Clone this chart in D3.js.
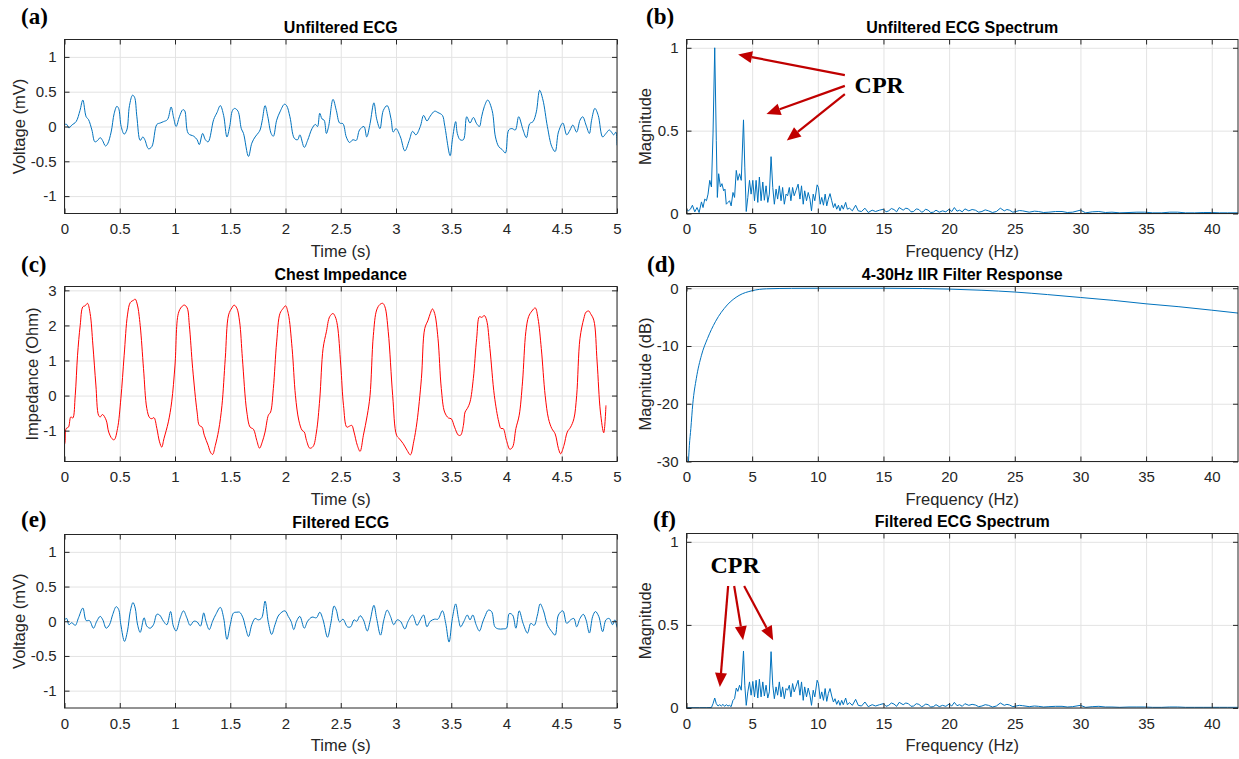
<!DOCTYPE html>
<html><head><meta charset="utf-8">
<script src="https://cdn.jsdelivr.net/npm/d3@7"></script>
<style>
body{margin:0;background:#fff;}
</style></head><body>
<svg id="c" width="1239" height="759"></svg>
<script>
// ---------------- DATA ----------------
const timeTicks = [0,0.5,1,1.5,2,2.5,3,3.5,4,4.5,5];
const voltTicks = [-1,-0.5,0,0.5,1];
const freqTicks = [0,5,10,15,20,25,30,35,40];
const magTicks = [0,0.5,1];
const impTicks = [-1,0,1,2,3];
const dbTicks = [-30,-20,-10,0];

const unfilteredECG = [[0,0.03],[0.02,0.03],[0.04,-0.02],[0.066,0.02],[0.105,0.07],[0.14,0.23],[0.166,0.38],[0.196,0.14],[0.217,0.1],[0.248,-0.05],[0.275,-0.22],[0.3,-0.2],[0.323,-0.16],[0.344,-0.2],[0.371,-0.28],[0.39,-0.25],[0.422,-0.08],[0.45,0.19],[0.474,0.29],[0.49,0.26],[0.513,0],[0.54,-0.11],[0.564,-0.05],[0.588,0.3],[0.616,0.45],[0.634,0.42],[0.655,0.14],[0.685,-0.2],[0.709,-0.15],[0.727,-0.19],[0.76,-0.32],[0.79,-0.29],[0.836,0.03],[0.866,0.05],[0.896,0.07],[0.932,0.1],[0.965,0.28],[0.986,0.14],[1.01,0],[1.04,0.14],[1.07,0.24],[1.087,0.23],[1.12,-0.1],[1.17,-0.14],[1.2,-0.19],[1.22,-0.26],[1.25,-0.1],[1.275,-0.19],[1.3,-0.22],[1.35,0.1],[1.38,0.2],[1.41,0.3],[1.44,0.16],[1.47,-0.15],[1.495,0],[1.52,0.23],[1.54,0.26],[1.57,0.22],[1.6,-0.03],[1.62,-0.1],[1.665,-0.43],[1.695,-0.24],[1.725,-0.15],[1.755,-0.09],[1.77,-0.05],[1.79,0.09],[1.815,0.3],[1.84,0.14],[1.87,-0.1],[1.89,-0.14],[1.92,0.09],[1.95,0.21],[1.99,0.32],[2.01,0.3],[2.04,0.14],[2.08,-0.17],[2.11,-0.19],[2.13,-0.12],[2.17,-0.3],[2.2,-0.2],[2.24,-0.03],[2.27,0.03],[2.29,0],[2.31,0.19],[2.33,0.11],[2.35,0.09],[2.37,-0.1],[2.39,0],[2.43,0.39],[2.46,0.23],[2.49,0.05],[2.52,0.04],[2.55,-0.15],[2.58,-0.23],[2.61,-0.19],[2.64,-0.2],[2.67,-0.05],[2.71,0],[2.735,-0.15],[2.765,0.04],[2.8,0.34],[2.825,0.11],[2.855,-0.03],[2.885,0.23],[2.92,0.3],[2.955,0.11],[2.975,-0.08],[3.0,-0.03],[3.04,-0.15],[3.08,-0.35],[3.12,-0.2],[3.15,-0.07],[3.18,-0.12],[3.22,0],[3.25,0.16],[3.28,0.08],[3.31,0.15],[3.35,0.22],[3.38,0.2],[3.42,0.16],[3.44,0.02],[3.49,-0.42],[3.51,-0.19],[3.54,0.07],[3.555,-0.1],[3.58,-0.19],[3.61,-0.19],[3.64,0.14],[3.67,0.05],[3.7,0.13],[3.73,0.04],[3.755,0],[3.775,0.14],[3.8,0.29],[3.83,0.38],[3.87,0.23],[3.9,-0.15],[3.93,-0.29],[3.96,-0.33],[3.99,-0.38],[4.02,-0.05],[4.05,-0.03],[4.08,-0.05],[4.11,0.14],[4.15,-0.05],[4.18,-0.16],[4.21,0.04],[4.24,0.07],[4.27,0.21],[4.3,0.52],[4.33,0.38],[4.37,0],[4.41,-0.29],[4.44,-0.36],[4.47,-0.08],[4.51,0.05],[4.545,-0.12],[4.575,-0.05],[4.6,0.02],[4.635,-0.08],[4.665,0.09],[4.69,0.14],[4.72,0.02],[4.75,-0.1],[4.77,0.09],[4.8,0.26],[4.83,0.16],[4.87,-0.15],[4.9,-0.1],[4.93,-0.05],[4.95,-0.08],[4.97,-0.12],[4.99,-0.08],[5.0,-0.27]];

const chestImpedance = [[0,-1.4],[0.005,-1.32],[0.015,-0.94],[0.036,-0.9],[0.057,-0.61],[0.075,-0.64],[0.097,0],[0.118,1.15],[0.142,2.0],[0.166,2.53],[0.187,2.56],[0.208,2.63],[0.232,2.34],[0.257,1.44],[0.284,0.3],[0.308,-0.56],[0.323,-0.61],[0.344,-0.54],[0.377,-0.7],[0.4,-1.04],[0.43,-1.23],[0.45,-1.26],[0.48,-0.94],[0.51,-0.09],[0.54,1.15],[0.57,2.3],[0.595,2.65],[0.625,2.72],[0.64,2.75],[0.66,2.58],[0.685,2.0],[0.715,0.77],[0.745,-0.37],[0.77,-0.63],[0.79,-0.66],[0.81,-0.63],[0.836,-0.94],[0.86,-1.32],[0.88,-1.47],[0.9,-1.23],[0.94,-0.75],[0.97,-0.18],[1.0,0.87],[1.03,2.34],[1.06,2.53],[1.085,2.58],[1.11,2.5],[1.13,2.0],[1.16,0.77],[1.2,-0.47],[1.22,-0.85],[1.245,-0.9],[1.265,-1.13],[1.3,-1.42],[1.32,-1.61],[1.34,-1.68],[1.365,-1.42],[1.395,-0.99],[1.425,-0.28],[1.455,1.06],[1.485,2.3],[1.515,2.5],[1.535,2.58],[1.56,2.49],[1.585,2.1],[1.61,1.06],[1.65,-0.47],[1.68,-0.9],[1.71,-0.96],[1.74,-1.28],[1.765,-1.5],[1.79,-1.32],[1.815,-1.04],[1.845,-0.56],[1.865,-0.47],[1.89,0.2],[1.92,1.53],[1.95,2.34],[1.98,2.49],[2.0,2.56],[2.025,2.34],[2.06,1.34],[2.09,0],[2.12,-0.7],[2.15,-0.99],[2.17,-1.04],[2.19,-1.28],[2.22,-1.5],[2.25,-1.45],[2.28,-1.04],[2.31,-0.1],[2.34,1.34],[2.37,1.82],[2.4,2.25],[2.43,2.34],[2.45,2.25],[2.47,2.0],[2.5,0.87],[2.525,-0.28],[2.555,-0.9],[2.58,-0.87],[2.6,-0.85],[2.62,-1.04],[2.65,-1.42],[2.675,-1.59],[2.705,-1.13],[2.74,-0.56],[2.765,0],[2.795,1.72],[2.825,2.44],[2.855,2.6],[2.88,2.63],[2.9,2.53],[2.93,1.82],[2.97,0],[3.005,-1.13],[3.03,-1.23],[3.065,-1.37],[3.1,-1.56],[3.13,-1.69],[3.16,-1.32],[3.19,-0.75],[3.23,0.49],[3.26,1.91],[3.29,2.15],[3.31,2.34],[3.33,2.47],[3.35,2.34],[3.38,1.63],[3.41,0.2],[3.44,-0.47],[3.475,-0.64],[3.5,-0.66],[3.53,-0.9],[3.565,-1.13],[3.585,-1.13],[3.61,-0.85],[3.625,-0.47],[3.645,-0.37],[3.67,-0.18],[3.7,0.49],[3.73,1.63],[3.755,2.25],[3.775,2.23],[3.8,2.28],[3.82,2.15],[3.85,1.34],[3.89,0],[3.93,-0.75],[3.95,-0.94],[3.97,-0.94],[4.0,-1.28],[4.03,-1.53],[4.055,-1.47],[4.085,-0.94],[4.115,-0.56],[4.145,0.39],[4.175,1.82],[4.2,2.25],[4.23,2.41],[4.26,2.5],[4.285,2.2],[4.315,1.34],[4.35,0],[4.38,-0.66],[4.41,-0.94],[4.44,-1.09],[4.47,-1.51],[4.49,-1.66],[4.52,-1.42],[4.55,-1.04],[4.58,-0.9],[4.61,-0.66],[4.635,0],[4.665,1.63],[4.7,2.2],[4.72,2.38],[4.745,2.41],[4.76,2.34],[4.79,2.15],[4.82,0.96],[4.85,-0.47],[4.88,-1.06],[4.9,-0.28]];

const filteredECG = [[0,0.02],[0.02,0.04],[0.04,-0.05],[0.066,-0.02],[0.097,-0.06],[0.127,0.05],[0.166,0.19],[0.196,0.01],[0.226,0.01],[0.262,-0.1],[0.292,0],[0.323,0.07],[0.347,0.02],[0.377,-0.1],[0.407,-0.05],[0.437,0.1],[0.468,0.21],[0.49,0.17],[0.51,-0.05],[0.543,-0.29],[0.57,-0.14],[0.595,0.14],[0.62,0.27],[0.64,0.19],[0.66,-0.04],[0.685,-0.16],[0.72,0.05],[0.745,-0.07],[0.775,-0.1],[0.805,-0.05],[0.836,0.1],[0.86,0.09],[0.896,0],[0.926,-0.05],[0.96,0.14],[0.985,-0.07],[1.01,-0.14],[1.047,0.05],[1.077,0.15],[1.107,0.05],[1.137,-0.06],[1.17,0],[1.2,-0.01],[1.23,-0.07],[1.26,0.12],[1.28,0],[1.31,-0.12],[1.34,0],[1.37,0.1],[1.41,0.2],[1.44,0.05],[1.47,-0.26],[1.5,-0.05],[1.53,0.12],[1.56,0.13],[1.585,0.13],[1.615,0.05],[1.64,-0.1],[1.665,-0.22],[1.695,-0.05],[1.725,0.04],[1.755,0.02],[1.785,0.05],[1.815,0.29],[1.845,-0.02],[1.875,-0.19],[1.905,-0.05],[1.94,0.09],[1.995,0.15],[2.025,0.07],[2.05,0],[2.075,-0.12],[2.1,0],[2.13,0.07],[2.17,-0.1],[2.2,0],[2.24,0.06],[2.28,0.05],[2.31,0.13],[2.34,0.02],[2.38,-0.23],[2.41,-0.03],[2.44,0.22],[2.46,0.16],[2.49,-0.01],[2.52,0.03],[2.56,-0.08],[2.59,-0.08],[2.62,0.02],[2.645,0],[2.675,0.08],[2.705,0.02],[2.74,-0.14],[2.765,0],[2.8,0.23],[2.825,0.04],[2.86,-0.2],[2.89,0.02],[2.92,0.16],[2.95,0.07],[2.98,-0.05],[3.01,0.02],[3.04,0],[3.08,-0.11],[3.11,0],[3.15,0.09],[3.19,-0.06],[3.22,0.02],[3.25,0.09],[3.28,-0.08],[3.31,0],[3.35,0.03],[3.38,0.03],[3.42,0.15],[3.45,-0.03],[3.48,-0.3],[3.51,0.04],[3.54,0.25],[3.565,0.04],[3.585,-0.08],[3.615,0],[3.645,0.09],[3.67,0.02],[3.695,0.09],[3.725,-0.05],[3.755,-0.14],[3.785,-0.01],[3.805,0.07],[3.835,0.16],[3.865,0.14],[3.895,-0.08],[3.925,-0.11],[3.97,-0.11],[4.0,-0.1],[4.025,0.11],[4.055,0.09],[4.085,-0.1],[4.115,0.15],[4.15,-0.03],[4.19,-0.17],[4.22,-0.03],[4.25,-0.06],[4.28,0.09],[4.305,0.25],[4.335,0.15],[4.37,-0.05],[4.41,-0.15],[4.44,-0.2],[4.47,0.09],[4.51,0.15],[4.545,-0.03],[4.58,0.02],[4.61,0.04],[4.635,-0.08],[4.665,0.04],[4.695,0.1],[4.72,0.02],[4.75,-0.17],[4.78,0.07],[4.805,0.14],[4.835,0.07],[4.87,-0.15],[4.9,0.02],[4.93,0.04],[4.96,-0.05],[4.98,0.02],[5.0,-0.09]];

const unfilteredSpectrum = [[0,0.026],[0.13,0.016],[0.3,0.026],[0.45,0.05],[0.63,0.01],[0.8,0.036],[0.96,0.006],[1.14,0.07],[1.26,0.036],[1.39,0.087],[1.52,0.077],[1.64,0.117],[1.77,0.2],[1.9,0.16],[2.02,0.48],[2.15,1.0],[2.27,0.44],[2.35,0.097],[2.45,0.24],[2.58,0.16],[2.7,0.18],[2.83,0.137],[2.93,0.147],[3.03,0.056],[3.16,0.067],[3.28,0.077],[3.4,0.046],[3.54,0.127],[3.66,0.097],[3.79,0.26],[3.91,0.2],[4.04,0.24],[4.17,0.2],[4.34,0.565],[4.44,0.28],[4.55,0.012],[4.67,0.097],[4.8,0.2],[4.92,0.117],[5.05,0.2],[5.18,0.077],[5.3,0.2],[5.43,0.067],[5.55,0.22],[5.68,0.077],[5.81,0.19],[5.93,0.08],[6.06,0.167],[6.19,0.067],[6.31,0.117],[6.44,0.343],[6.57,0.157],[6.69,0.056],[6.82,0.147],[6.94,0.087],[7.07,0.167],[7.2,0.077],[7.32,0.157],[7.45,0.056],[7.58,0.117],[7.7,0.107],[7.83,0.157],[7.95,0.077],[8.08,0.157],[8.2,0.107],[8.33,0.137],[8.5,0.177],[8.64,0.087],[8.76,0.167],[8.89,0.056],[9.0,0.137],[9.14,0.077],[9.27,0.127],[9.4,0.087],[9.52,0.016],[9.65,0.117],[9.77,0.077],[9.95,0.173],[10.05,0.157],[10.18,0.056],[10.3,0.097],[10.43,0.05],[10.56,0.117],[10.68,0.046],[10.8,0.087],[10.93,0.12],[11.06,0.077],[11.19,0.036],[11.31,0.06],[11.44,0.026],[11.57,0.05],[11.69,0.016],[11.82,0.05],[11.94,0.026],[12.12,0.067],[12.25,0.026],[12.42,0.032],[12.63,0.016],[12.88,0.05],[13.08,0.016],[13.33,0.012],[13.59,0.032],[13.84,0.006],[14.14,0.02],[14.4,0.012],[14.7,0.02],[15.0,0.026],[15.2,0.01],[15.4,0.016],[15.6,0.03],[15.8,0.024],[16.0,0.01],[16.2,0.036],[16.5,0.02],[16.7,0.032],[16.9,0.028],[17.1,0.01],[17.3,0.012],[17.5,0.028],[17.7,0.024],[17.9,0.008],[18.05,0.012],[18.2,0.026],[18.4,0.02],[18.6,0.006],[18.8,0.008],[19.0,0.02],[19.25,0.008],[19.5,0.016],[19.75,0.01],[20,0.026],[20.2,0.012],[20.4,0.036],[20.6,0.014],[20.8,0.02],[21.0,0.01],[21.2,0.028],[21.5,0.016],[21.75,0.024],[22.0,0.02],[22.25,0.008],[22.5,0.012],[22.75,0.022],[23.0,0.016],[23.3,0.006],[23.6,0.012],[23.9,0.032],[24.2,0.016],[24.4,0.024],[24.6,0.02],[24.85,0.008],[25.1,0.012],[25.35,0.018],[25.6,0.016],[26.1,0.008],[26.5,0.014],[26.8,0.012],[27.2,0.006],[27.6,0.008],[28.1,0.012],[28.6,0.012],[29.0,0.006],[29.4,0.008],[30,0.02],[30.4,0.004],[30.9,0.01],[31.4,0.012],[31.9,0.006],[32.4,0.008],[33.0,0.004],[33.7,0.006],[34.3,0.008],[34.9,0.008],[35.5,0.004],[36.2,0.004],[36.8,0.008],[37.4,0.008],[38.0,0.004],[38.7,0.004],[39.4,0.006],[40,0.006],[40.6,0.004],[41.2,0.004],[42,0.004]];

const filteredSpectrum = [[0,0.002],[0.5,0.002],[1.0,0.002],[1.5,0.002],[1.9,0.003],[2.02,0.026],[2.15,0.06],[2.27,0.026],[2.4,0.012],[2.53,0.02],[2.65,0.012],[2.78,0.022],[2.9,0.01],[3.03,0.02],[3.16,0.012],[3.28,0.016],[3.4,0.008],[3.54,0.046],[3.66,0.056],[3.79,0.12],[3.91,0.1],[4.04,0.137],[4.17,0.107],[4.34,0.343],[4.44,0.137],[4.55,0.016],[4.67,0.097],[4.8,0.157],[4.92,0.077],[5.05,0.16],[5.18,0.067],[5.3,0.167],[5.43,0.06],[5.55,0.173],[5.68,0.067],[5.81,0.157],[5.93,0.072],[6.06,0.137],[6.19,0.06],[6.31,0.097],[6.44,0.339],[6.57,0.137],[6.69,0.056],[6.82,0.127],[6.94,0.077],[7.07,0.157],[7.2,0.067],[7.32,0.127],[7.45,0.056],[7.58,0.117],[7.7,0.107],[7.83,0.137],[7.95,0.067],[8.08,0.147],[8.2,0.097],[8.33,0.127],[8.5,0.167],[8.64,0.077],[8.76,0.157],[8.89,0.046],[9.0,0.127],[9.14,0.067],[9.27,0.12],[9.4,0.077],[9.52,0.016],[9.65,0.107],[9.77,0.067],[9.95,0.167],[10.05,0.147],[10.18,0.056],[10.3,0.097],[10.43,0.046],[10.56,0.117],[10.68,0.04],[10.8,0.087],[10.93,0.117],[11.06,0.072],[11.19,0.036],[11.31,0.056],[11.44,0.022],[11.57,0.046],[11.69,0.016],[11.82,0.046],[11.94,0.02],[12.12,0.06],[12.25,0.02],[12.42,0.032],[12.63,0.016],[12.88,0.052],[13.08,0.016],[13.33,0.012],[13.59,0.036],[13.84,0.008],[14.14,0.02],[14.4,0.012],[14.7,0.02],[15.0,0.026],[15.2,0.01],[15.4,0.016],[15.6,0.03],[15.8,0.024],[16.0,0.01],[16.2,0.034],[16.5,0.02],[16.7,0.03],[16.9,0.026],[17.1,0.01],[17.3,0.012],[17.5,0.026],[17.7,0.022],[17.9,0.008],[18.05,0.012],[18.2,0.024],[18.4,0.02],[18.6,0.006],[18.8,0.008],[19.0,0.02],[19.25,0.008],[19.5,0.016],[19.75,0.01],[20,0.024],[20.2,0.012],[20.4,0.034],[20.6,0.014],[20.8,0.02],[21.0,0.01],[21.2,0.026],[21.5,0.016],[21.75,0.022],[22.0,0.018],[22.25,0.008],[22.5,0.012],[22.75,0.02],[23.0,0.016],[23.3,0.006],[23.6,0.012],[23.9,0.03],[24.2,0.016],[24.4,0.022],[24.6,0.018],[24.85,0.008],[25.1,0.012],[25.35,0.016],[25.6,0.014],[26.1,0.008],[26.5,0.012],[26.8,0.01],[27.2,0.006],[27.6,0.008],[28.1,0.01],[28.6,0.01],[29.0,0.006],[29.4,0.008],[30,0.016],[30.4,0.004],[30.9,0.008],[31.4,0.01],[31.9,0.006],[32.4,0.006],[33.0,0.004],[33.7,0.006],[34.3,0.006],[34.9,0.006],[35.5,0.004],[36.2,0.004],[36.8,0.006],[37.4,0.006],[38.0,0.004],[38.7,0.004],[39.4,0.004],[40,0.004],[40.6,0.004],[41.2,0.004],[42,0.004]];

const filterResponse = [[0.11,-32],[0.15,-30],[0.22,-27.2],[0.33,-24.3],[0.48,-20],[0.75,-15.6],[1.14,-11.6],[1.6,-8.7],[2.2,-5.8],[3.1,-2.9],[4.0,-1.25],[5,-0.43],[6.1,-0.1],[8,-0.02],[10,0],[15,0],[18,-0.05],[20,-0.15],[22.5,-0.35],[25,-0.66],[27.5,-1.1],[30,-1.6],[32.5,-2.1],[35,-2.7],[37.5,-3.2],[40,-3.8],[42,-4.3]];

// CPR annotations (data coordinates of their panel): [fromX, fromY, toX, toY]
const cprArrowsB = [[12.06,0.835,3.93,0.96],[12.06,0.77,6.09,0.6],[12.06,0.72,7.64,0.44]];
const cprLabelB = [12.8,0.726];
const cprArrowsF = [[3.17,0.734,2.54,0.126],[3.63,0.734,4.31,0.408],[4.39,0.734,6.6,0.408]];
const cprLabelF = [1.83,0.811];

// ---------------- DRAW ----------------
const svg = d3.select('#c');
const SANS = '"Liberation Sans", Arial, Helvetica, sans-serif';
const SERIF = '"Liberation Serif", "Times New Roman", serif';
const AX = '#262626', GRID = '#e3e3e3';
const BLUE = '#0072BD';

function panel(cfg){
  const g = svg.append('g');
  const x = d3.scaleLinear().domain(cfg.xDomain).range([cfg.left, cfg.right]);
  const y = d3.scaleLinear().domain(cfg.yDomain).range([cfg.bottom, cfg.top]);
  const w = cfg.right - cfg.left, h = cfg.bottom - cfg.top;
  // grid
  g.append('g').attr('transform', `translate(0,${cfg.bottom})`)
    .call(d3.axisBottom(x).tickValues(cfg.xTicks).tickSize(-h).tickFormat(''))
    .call(s => { s.select('.domain').remove(); s.selectAll('line').attr('stroke', GRID); });
  g.append('g').attr('transform', `translate(${cfg.left},0)`)
    .call(d3.axisLeft(y).tickValues(cfg.yTicks).tickSize(-w).tickFormat(''))
    .call(s => { s.select('.domain').remove(); s.selectAll('line').attr('stroke', GRID); });
  // clip
  const cid = 'clip-' + cfg.id;
  svg.append('clipPath').attr('id', cid).append('rect')
    .attr('x', cfg.left).attr('y', cfg.top).attr('width', w).attr('height', h);
  // data line
  g.append('path').datum(cfg.data)
    .attr('clip-path', `url(#${cid})`)
    .attr('fill', 'none').attr('stroke', cfg.color).attr('stroke-width', 1)
    .attr('stroke-linejoin', 'round')
    .attr('d', d3.line().x(d => x(d[0])).y(d => y(d[1])).curve(cfg.curve));
  // axes
  const fmt = d => String(d);
  const style = s => {
    s.attr('font-family', SANS).attr('font-size', 15);
    s.select('.domain').remove();
    s.selectAll('line').attr('stroke', AX);
    s.selectAll('text').attr('fill', AX);
  };
  g.append('g').attr('transform', `translate(0,${cfg.bottom})`)
    .call(d3.axisBottom(x).tickValues(cfg.xTicks).tickSizeInner(-5).tickSizeOuter(0).tickPadding(10).tickFormat(fmt)).call(style);
  g.append('g').attr('transform', `translate(0,${cfg.top})`)
    .call(d3.axisTop(x).tickValues(cfg.xTicks).tickSizeInner(-5).tickSizeOuter(0).tickFormat('')).call(style);
  g.append('g').attr('transform', `translate(${cfg.left},0)`)
    .call(d3.axisLeft(y).tickValues(cfg.yTicks).tickSizeInner(-5).tickSizeOuter(0).tickPadding(8).tickFormat(fmt)).call(style);
  g.append('g').attr('transform', `translate(${cfg.right},0)`)
    .call(d3.axisRight(y).tickValues(cfg.yTicks).tickSizeInner(-5).tickSizeOuter(0).tickFormat('')).call(style);
  g.append('rect').attr('x', cfg.left).attr('y', cfg.top).attr('width', w).attr('height', h)
    .attr('fill', 'none').attr('stroke', AX).attr('stroke-width', 1);
  // title
  g.append('text').attr('x', (cfg.left + cfg.right) / 2).attr('y', cfg.top - 7)
    .attr('text-anchor', 'middle').attr('font-family', SANS).attr('font-weight', 'bold')
    .attr('font-size', 16).attr('fill', '#000').text(cfg.title);
  // x label
  g.append('text').attr('x', (cfg.left + cfg.right) / 2).attr('y', cfg.bottom + 43)
    .attr('text-anchor', 'middle').attr('font-family', SANS).attr('font-size', 16.5)
    .attr('fill', AX).text(cfg.xLabel);
  // y label
  g.append('text').attr('transform', `translate(${cfg.yLabelX},${(cfg.top + cfg.bottom) / 2}) rotate(-90)`)
    .attr('dy', '0.35em').attr('text-anchor', 'middle').attr('font-family', SANS).attr('font-size', 16.5)
    .attr('fill', AX).text(cfg.yLabel);
  // panel letter
  g.append('text').attr('x', cfg.letterX).attr('y', cfg.letterY)
    .attr('font-family', SERIF).attr('font-weight', 'bold').attr('font-size', 23)
    .attr('fill', '#000').text(cfg.letter);
  return {x, y, g};
}

function arrows(p, list, label){
  const RED = '#C00000';
  list.forEach(a => {
    const x1 = p.x(a[0]), y1 = p.y(a[1]), x2 = p.x(a[2]), y2 = p.y(a[3]);
    const ang = Math.atan2(y2 - y1, x2 - x1);
    const L = 14, W = 6;
    const bx = x2 - L * Math.cos(ang), by = y2 - L * Math.sin(ang);
    p.g.append('line').attr('x1', x1).attr('y1', y1).attr('x2', bx).attr('y2', by)
      .attr('stroke', RED).attr('stroke-width', 2.2);
    const px = -Math.sin(ang) * W, py = Math.cos(ang) * W;
    p.g.append('polygon')
      .attr('points', `${x2},${y2} ${bx + px},${by + py} ${bx - px},${by - py}`)
      .attr('fill', RED);
  });
  p.g.append('text').attr('x', p.x(label[0])).attr('y', p.y(label[1]))
    .attr('font-family', SERIF).attr('font-weight', 'bold').attr('font-size', 24)
    .attr('fill', '#000').text('CPR');
}

const L1 = 64.5, R1 = 617, L2 = 686.5, R2 = 1238;

panel({id:'a', left:L1, right:R1, top:39.5, bottom:213.5, xDomain:[0,5], yDomain:[-1.25,1.25],
  xTicks:timeTicks, yTicks:voltTicks, data:unfilteredECG, color:BLUE, curve:d3.curveCatmullRom,
  title:'Unfiltered ECG', xLabel:'Time (s)', yLabel:'Voltage (mV)', yLabelX:19, letter:'(a)', letterX:21, letterY:24});

const pb = panel({id:'b', left:L2, right:R2, top:39.5, bottom:213.5, xDomain:[0,42], yDomain:[0,1.05],
  xTicks:freqTicks, yTicks:magTicks, data:unfilteredSpectrum, color:BLUE, curve:d3.curveLinear,
  title:'Unfiltered ECG Spectrum', xLabel:'Frequency (Hz)', yLabel:'Magnitude', yLabelX:645, letter:'(b)', letterX:646, letterY:24});
arrows(pb, cprArrowsB, cprLabelB);

panel({id:'c', left:L1, right:R1, top:286.5, bottom:461.5, xDomain:[0,5], yDomain:[-1.88,3.11],
  xTicks:timeTicks, yTicks:impTicks, data:chestImpedance, color:'#FF0000', curve:d3.curveCatmullRom,
  title:'Chest Impedance', xLabel:'Time (s)', yLabel:'Impedance (Ohm)', yLabelX:32, letter:'(c)', letterX:21, letterY:272});

panel({id:'d', left:L2, right:R2, top:286.5, bottom:461.5, xDomain:[0,42], yDomain:[-30,0.3],
  xTicks:freqTicks, yTicks:dbTicks, data:filterResponse, color:BLUE, curve:d3.curveMonotoneX,
  title:'4-30Hz IIR Filter Response', xLabel:'Frequency (Hz)', yLabel:'Magnitude (dB)', yLabelX:645, letter:'(d)', letterX:647, letterY:272});

panel({id:'e', left:L1, right:R1, top:534.5, bottom:708, xDomain:[0,5], yDomain:[-1.25,1.25],
  xTicks:timeTicks, yTicks:voltTicks, data:filteredECG, color:BLUE, curve:d3.curveCatmullRom,
  title:'Filtered ECG', xLabel:'Time (s)', yLabel:'Voltage (mV)', yLabelX:19, letter:'(e)', letterX:21, letterY:527});

const pf = panel({id:'f', left:L2, right:R2, top:533.5, bottom:708, xDomain:[0,42], yDomain:[0,1.05],
  xTicks:freqTicks, yTicks:magTicks, data:filteredSpectrum, color:BLUE, curve:d3.curveLinear,
  title:'Filtered ECG Spectrum', xLabel:'Frequency (Hz)', yLabel:'Magnitude', yLabelX:645, letter:'(f)', letterX:653, letterY:527});
arrows(pf, cprArrowsF, cprLabelF);
</script>
</body></html>
